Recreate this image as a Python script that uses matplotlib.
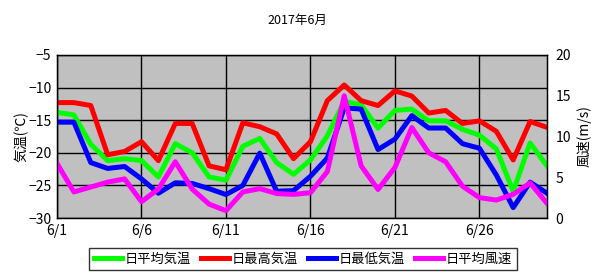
import matplotlib
matplotlib.use("Agg")
import matplotlib.pyplot as plt
import numpy as np

plt.rcParams['font.family'] = ['Noto Sans CJK JP', 'DejaVu Sans']
plt.rcParams['axes.unicode_minus'] = True

days = list(range(1, 31))
avg_temp = [-13.8, -14.2, -18.7, -21.2, -20.9, -21.2, -23.7, -18.6, -20.0, -23.7,
            -24.2, -19.0, -17.8, -21.5, -23.3, -21.1, -17.4, -12.1, -12.65, -16.2,
            -13.5, -13.3, -15.1, -15.1, -16.4, -17.3, -19.4, -25.9, -18.5, -22.0]
max_temp = [-12.3, -12.3, -12.75, -20.3, -19.8, -18.3, -21.2, -15.5, -15.5, -22.0,
            -22.6, -15.4, -16.0, -17.1, -20.9, -18.3, -12.0, -9.6, -12.0, -12.75,
            -10.5, -11.3, -13.9, -13.5, -15.5, -15.1, -16.7, -21.1, -15.2, -16.1]
min_temp = [-15.3, -15.3, -21.5, -22.4, -22.1, -24.0, -26.2, -24.6, -24.7, -25.5,
            -26.4, -25.0, -20.05, -25.9, -25.8, -23.6, -20.8, -13.1, -13.3, -19.5,
            -17.9, -14.3, -16.2, -16.2, -18.6, -19.3, -23.4, -28.4, -24.5, -26.2]
wind = [6.7, 3.2, 3.8, 4.4, 4.8, 2.0, 3.55, 6.9, 3.55, 1.7,
        0.9, 3.2, 3.6, 3.0, 2.9, 3.1, 5.7, 15.0, 6.4, 3.5,
        6.2, 11.1, 8.0, 6.9, 3.9, 2.5, 2.2, 2.9, 4.3, 1.8]
xtick_days = [1, 6, 11, 16, 21, 26]
xtick_labels = ['6/1', '6/6', '6/11', '6/16', '6/21', '6/26']
title = '2017年6月'

W, H = 599, 277
fig = plt.figure(figsize=(W / 100, H / 100), dpi=100)
ax = fig.add_axes([57 / W, 1 - 218 / H, (547 - 57) / W, (218 - 55) / H])
ax.set_facecolor('#c0c0c0')
lw = 3.6
l1, = ax.plot(days, avg_temp, color='#00ff00', lw=lw, label='日平均気温')
l2, = ax.plot(days, max_temp, color='#ff0000', lw=lw, label='日最高気温')
l3, = ax.plot(days, min_temp, color='#0000ff', lw=lw, label='日最低気温')
ax.set_xlim(1, 30)
ax.set_ylim(-30, -5)
ax.set_yticks(np.arange(-30, -4, 5))
ax.set_xticks(xtick_days)
ax.set_xticklabels(xtick_labels)
ax.grid(True, color='black', lw=1)
ax.set_axisbelow(True)
ax.tick_params(length=0, labelsize=10, pad=4)
ax.set_ylabel('気温(℃)', fontsize=10, labelpad=0)
for s in ax.spines.values():
    s.set_color('black')
    s.set_linewidth(1)

ax2 = ax.twinx()
l4, = ax2.plot(days, wind, color='#ff00ff', lw=lw, label='日平均風速')
ax2.set_ylim(0, 20)
ax2.set_yticks([0, 5, 10, 15, 20])
ax2.tick_params(length=0, labelsize=10, pad=6)
ax2.set_ylabel('風速(m/s)', fontsize=10, labelpad=4)
ax2.set_xlim(1, 30)

fig.text(297 / W, 1 - 20 / H, title, ha='center', va='center', fontsize=9)

leg = fig.legend(handles=[l1, l2, l3, l4], loc='center', ncol=4,
                 bbox_to_anchor=(303 / W, 1 - 259 / H), fontsize=9.5,
                 frameon=True, fancybox=False, edgecolor='black',
                 handlelength=2.1, handletextpad=0.2, columnspacing=0.8,
                 borderpad=0.35)
leg.get_frame().set_linewidth(1)

fig.savefig('out.png', dpi=100)
